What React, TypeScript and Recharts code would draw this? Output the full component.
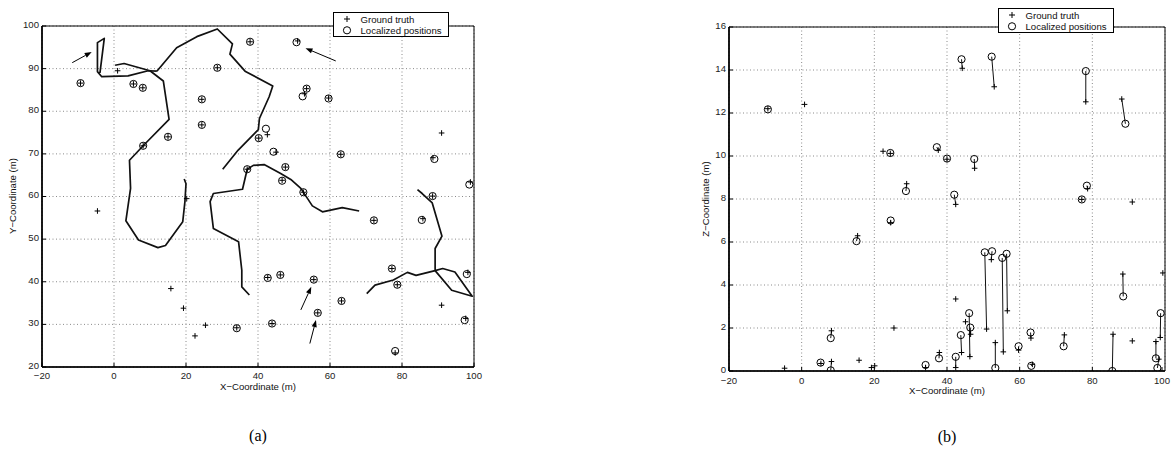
import React from 'react';
import { ScatterChart, Scatter, XAxis, YAxis, CartesianGrid, ReferenceArea } from 'recharts';

type Pt = [number, number];

// ---- (a) plan view: ground truth vs localized, in metres ----
const planTruth: Pt[] = [
  [-9.3, 86.6], [5.4, 86.4], [8.0, 85.5], [28.7, 90.2], [24.4, 82.8], [24.4, 76.8], [15.0, 74.0],
  [8.1, 71.9], [37.8, 96.3], [37.0, 66.4], [34.1, 29.2], [51.0, 96.5], [53.5, 85.3], [52.9, 84.1],
  [59.6, 83.1], [42.6, 74.5], [40.2, 73.7], [45.0, 70.4], [63.0, 69.9], [47.6, 66.9], [46.7, 63.8],
  [52.6, 61.0], [72.2, 54.4], [88.6, 69.1], [99.0, 63.4], [88.5, 60.1], [85.8, 54.8], [77.2, 43.1],
  [78.7, 39.3], [98.3, 42.2], [97.7, 31.4], [78.1, 23.3], [42.7, 41.0], [46.2, 41.6], [55.5, 40.5],
  [56.6, 32.7], [63.2, 35.5], [43.9, 30.2],
];
const planEstimate: Pt[] = [
  [-9.3, 86.6], [5.4, 86.4], [8.0, 85.5], [28.7, 90.2], [24.4, 82.8], [24.4, 76.8], [15.0, 74.0],
  [8.1, 71.9], [37.8, 96.3], [37.0, 66.4], [34.1, 29.1], [50.7, 96.2], [53.5, 85.3], [52.4, 83.5],
  [59.6, 83.0], [42.2, 75.9], [40.2, 73.7], [44.3, 70.5], [63.0, 69.9], [47.6, 66.9], [46.7, 63.7],
  [52.6, 61.0], [72.2, 54.4], [89.0, 68.8], [98.7, 62.8], [88.5, 60.1], [85.5, 54.5], [77.2, 43.1],
  [78.7, 39.3], [98.0, 41.8], [97.4, 31.0], [78.1, 23.75], [42.7, 40.9], [46.2, 41.6], [55.5, 40.5],
  [56.6, 32.7], [63.2, 35.5], [43.9, 30.2],
];
const planTruthOnly: Pt[] = [
  [1.0, 89.5], [-4.6, 56.6], [20.2, 59.5], [15.8, 38.4], [19.3, 33.8], [25.4, 29.8], [22.5, 27.3],
  [91.0, 74.9], [91.0, 34.5],
];

// building walls
const wallNorth: Pt[] = [
  [-3.9, 89.0], [-2.7, 97.1], [-4.6, 96.1], [-4.6, 89.3], [-3.4, 88.1], [3.9, 88.3], [9.5, 89.5], [11.9, 89.4],
];
const wallWest: Pt[] = [
  [0.3, 90.8], [2.8, 91.2], [10.0, 89.5], [13.7, 87.1], [15.3, 78.1], [8.1, 71.9], [4.3, 68.5], [4.6, 61.9],
  [3.3, 54.3], [6.8, 49.8], [12.2, 48.0], [14.3, 48.5], [19.1, 54.1], [19.7, 58.8], [20.0, 63.0], [19.5, 64.1],
];
const wallCorridor: Pt[] = [
  [11.9, 89.4], [17.4, 94.9], [23.0, 97.5], [28.7, 99.3], [32.9, 95.8], [32.2, 93.4], [36.4, 89.4],
  [44.1, 85.9], [43.1, 83.4], [40.4, 78.3], [40.1, 75.7], [34.5, 70.9], [30.2, 66.4],
];
const wallCentre: Pt[] = [
  [37.6, 36.9], [35.5, 38.8], [35.5, 42.7], [34.6, 49.4], [27.6, 52.5], [26.7, 58.8], [27.6, 60.7],
  [35.7, 61.7], [37.0, 66.4], [38.7, 67.3], [41.7, 67.5], [46.3, 65.4], [49.1, 64.0], [51.9, 61.9],
  [55.1, 57.8], [57.9, 56.4], [63.4, 57.4], [68.1, 56.6],
];
const wallEast: Pt[] = [
  [84.3, 61.6], [85.6, 60.7], [88.4, 58.5], [91.1, 50.7], [89.2, 47.8], [89.2, 42.6], [83.9, 41.5],
  [81.5, 42.2], [77.6, 40.4], [72.5, 39.2], [70.2, 37.2],
];
const wallEastLoop: Pt[] = [
  [89.2, 42.6], [91.3, 43.1], [94.7, 42.3], [99.5, 36.6], [93.8, 38.0], [89.2, 42.6],
];
const planWalls = [wallNorth, wallWest, wallCorridor, wallCentre, wallEast, wallEastLoop];

// arrows: [tail, head]
const planArrows: Pt[][] = [
  [[-11.6, 91.4], [-6.2, 93.9]],
  [[61.6, 91.8], [53.2, 94.8]],
  [[51.9, 33.4], [54.8, 38.8]],
  [[54.4, 25.5], [56.1, 31.0]],
];

// ---- (b) height: ground truth vs localized ----
const heightTruth: Pt[] = [
  [-9.3, 12.2], [24.4, 10.12], [37.6, 10.27], [28.9, 8.71], [24.5, 6.9], [15.4, 6.29], [8.2, 1.87],
  [5.3, 0.35], [8.2, 0.44], [34.1, 0.16], [37.9, 0.86], [40.0, 9.85], [44.2, 14.08], [53.0, 13.22],
  [78.2, 12.52], [88.1, 12.65], [47.6, 9.43], [42.4, 7.75], [78.7, 8.48], [77.1, 7.98], [50.9, 1.95],
  [52.2, 5.18], [55.5, 0.89], [56.6, 2.8], [46.3, 0.67], [46.5, 1.71], [44.0, 0.86], [42.4, 0.16],
  [53.3, 1.32], [59.7, 0.97], [63.1, 1.53], [63.5, 0.31], [72.3, 1.68], [85.7, 1.71], [88.4, 4.51],
  [98.7, 1.56], [97.5, 1.37], [98.3, 0.55],
];
const heightEstimate: Pt[] = [
  [-9.3, 12.17], [24.4, 10.14], [37.2, 10.41], [28.7, 8.37], [24.5, 7.0], [15.1, 6.04], [8.0, 1.53],
  [5.2, 0.39], [8.0, 0.03], [34.1, 0.28], [37.8, 0.59], [40.0, 9.88], [44.0, 14.5], [52.3, 14.62],
  [78.2, 13.95], [89.1, 11.5], [47.5, 9.86], [42.0, 8.2], [78.5, 8.62], [77.1, 7.98], [50.4, 5.52],
  [52.4, 5.57], [55.2, 5.26], [56.4, 5.45], [46.1, 2.69], [46.4, 2.02], [43.8, 1.67], [42.4, 0.66],
  [53.3, 0.14], [59.7, 1.15], [63.0, 1.79], [63.2, 0.24], [72.1, 1.15], [85.5, 0.0], [88.5, 3.47],
  [98.8, 2.69], [97.5, 0.59], [97.9, 0.14],
];
const heightTruthOnly: Pt[] = [
  [0.8, 12.4], [22.4, 10.22], [25.4, 2.0], [-4.7, 0.13], [15.8, 0.5], [19.2, 0.16], [20.1, 0.24],
  [91.0, 7.86], [42.4, 3.35], [45.1, 2.29], [91.0, 1.4], [99.4, 4.56],
];

const xTicks = [-20, 0, 20, 40, 60, 80, 100];
const planYTicks = [20, 30, 40, 50, 60, 70, 80, 90, 100];
const heightYTicks = [0, 2, 4, 6, 8, 10, 12, 14, 16];

const FONT = '"Liberation Sans", Arial, Helvetica, sans-serif';
const FS = 9.6;

const toObj = (pts: Pt[]) => pts.map(([x, y]) => ({ x, y }));
const fmt = (v: number) => (v < 0 ? '\u2212' + Math.abs(v) : String(v));

const Plus = (p: any) => (
  <path d={`M${p.cx - 2.8},${p.cy}H${p.cx + 2.8}M${p.cx},${p.cy - 2.8}V${p.cy + 2.8}`} stroke="#000" strokeWidth={1} />
);
const Ring = (p: any) => <circle cx={p.cx} cy={p.cy} r={3.6} fill="none" stroke="#000" strokeWidth={1} />;
const NoDot = () => <g />;

// inward tick mark + label; gap = distance from axis to label anchor
const makeXTick = (gap: number) => (p: any) => (
  <g>
    <line x1={p.x} x2={p.x} y1={p.y - gap} y2={p.y - gap - 4} stroke="#000" strokeWidth={1} />
    <text x={p.x} y={p.y} dy="0.71em" textAnchor="middle" fontSize={FS} fontFamily={FONT} fill="#222">
      {fmt(p.payload.value)}
    </text>
  </g>
);
const YTick = (p: any) => (
  <g>
    <line x1={p.x + 3} x2={p.x + 7} y1={p.y} y2={p.y} stroke="#000" strokeWidth={1} />
    <text x={p.x} y={p.y - 1.5} dy="0.355em" textAnchor="end" fontSize={FS} fontFamily={FONT} fill="#222">
      {fmt(p.payload.value)}
    </text>
  </g>
);
const XTickA = makeXTick(5);
const XTickB = makeXTick(6);

// straight polyline through the scatter points
const polyline = (lp: any) => {
  const pts = lp.points || [];
  return (
    <polyline points={pts.map((q: any) => `${q.x},${q.y}`).join(' ')} fill="none" stroke="#111" strokeWidth={1.7}
      strokeLinejoin="round" />
  );
};

// draws segments between consecutive pairs (truth -> estimate)
const pairSegments = (lp: any) => {
  const pts = lp.points || [];
  const segs = [];
  for (let i = 0; i + 1 < pts.length; i += 2) {
    segs.push(<line key={i} x1={pts[i].x} y1={pts[i].y} x2={pts[i + 1].x} y2={pts[i + 1].y} stroke="#111" strokeWidth={1} />);
  }
  return <g>{segs}</g>;
};

const arrowLine = (lp: any) => {
  const pts = lp.points || [];
  if (pts.length < 2) return <g />;
  const [a, b] = pts;
  const ang = Math.atan2(b.y - a.y, b.x - a.x);
  const L = 7, W = 2.6;
  const bx = b.x - L * Math.cos(ang), by = b.y - L * Math.sin(ang);
  const nx = -Math.sin(ang) * W, ny = Math.cos(ang) * W;
  return (
    <g>
      <line x1={a.x} y1={a.y} x2={bx} y2={by} stroke="#000" strokeWidth={1} />
      <polygon points={`${b.x},${b.y} ${bx + nx},${by + ny} ${bx - nx},${by - ny}`} fill="#000" />
    </g>
  );
};

const gridProps = { stroke: '#8a8a8a', strokeDasharray: '1 2.5', strokeWidth: 1 };

const Legend = ({ left, top }: { left: number; top: number }) => (
  <svg width={118} height={26} style={{ position: 'absolute', left, top }}>
    <rect x={0.5} y={0.5} width={115} height={24} fill="#fff" stroke="#000" strokeWidth={1} />
    <path d="M11,7H17M14,4V10" stroke="#000" strokeWidth={1} />
    <circle cx={14} cy={18.3} r={3.6} fill="none" stroke="#000" strokeWidth={1} />
    <text x={27.5} y={10.6} fontSize={FS} fontFamily={FONT} fill="#111">Ground truth</text>
    <text x={27.5} y={21.8} fontSize={FS} fontFamily={FONT} fill="#111">Localized positions</text>
  </svg>
);

const axisText: React.CSSProperties = { position: 'absolute', fontFamily: FONT, fontSize: FS, color: '#111', whiteSpace: 'nowrap' };
const caption: React.CSSProperties = { position: 'absolute', fontFamily: '"Liberation Serif", "Times New Roman", serif', fontSize: 16, color: '#000' };

export default function App() {
  return (
    <div style={{ position: 'absolute', left: 0, top: 0, width: 1174, height: 452, background: '#fff', overflow: 'hidden' }}>
      {/* (a) */}
      <div style={{ position: 'absolute', left: 0, top: 0 }}>
        <ScatterChart width={490} height={400} margin={{ top: 26, right: 16, bottom: 13, left: 0 }}>
          <CartesianGrid {...gridProps} />
          <XAxis type="number" dataKey="x" domain={[-20, 100]} ticks={xTicks} tick={<XTickA />} tickSize={0} tickMargin={5}
            tickLine={false} axisLine={{ stroke: '#000', strokeWidth: 1.6 }} height={20} allowDataOverflow />
          <YAxis type="number" dataKey="y" domain={[20, 100]} ticks={planYTicks} tick={<YTick />} tickSize={0} tickMargin={3}
            tickLine={false} axisLine={{ stroke: '#000', strokeWidth: 1.6 }} width={42} allowDataOverflow />
          <ReferenceArea x1={-20} x2={100} y1={20} y2={100} fill="none" fillOpacity={0} stroke="#000" strokeWidth={1} />
          {planWalls.map((w, i) => (
            <Scatter key={'w' + i} data={toObj(w)} shape={NoDot} line={polyline} lineJointType="linear" isAnimationActive={false} />
          ))}
          {planArrows.map((a, i) => (
            <Scatter key={'a' + i} data={toObj(a)} shape={NoDot} line={arrowLine} isAnimationActive={false} />
          ))}
          <Scatter data={toObj(planTruth)} shape={Plus} isAnimationActive={false} />
          <Scatter data={toObj(planTruthOnly)} shape={Plus} isAnimationActive={false} />
          <Scatter data={toObj(planEstimate)} shape={Ring} isAnimationActive={false} />
        </ScatterChart>
      </div>
      <div style={{ ...axisText, left: 258, top: 381, transform: 'translateX(-50%)' }}>X−Coordinate (m)</div>
      <div style={{ ...axisText, left: 12, top: 196, transform: 'translate(-50%,-50%) rotate(-90deg)' }}>Y−Coordinate (m)</div>
      <Legend left={333} top={12} />
      <div style={{ ...caption, left: 258, top: 427, transform: 'translateX(-50%)' }}>(a)</div>

      {/* (b) */}
      <div style={{ position: 'absolute', left: 690, top: 0 }}>
        <ScatterChart width={484} height={400} margin={{ top: 27, right: 9, bottom: 9, left: 0 }}>
          <CartesianGrid {...gridProps} />
          <XAxis type="number" dataKey="x" domain={[-20, 100]} ticks={xTicks} tick={<XTickB />} tickSize={0} tickMargin={6}
            tickLine={false} axisLine={{ stroke: '#000', strokeWidth: 1.6 }} height={20} allowDataOverflow />
          <YAxis type="number" dataKey="y" domain={[0, 16]} ticks={heightYTicks} tick={<YTick />} tickSize={0} tickMargin={3}
            tickLine={false} axisLine={{ stroke: '#000', strokeWidth: 1.6 }} width={39} allowDataOverflow />
          <ReferenceArea x1={-20} x2={100} y1={0} y2={16} fill="none" fillOpacity={0} stroke="#000" strokeWidth={1} />
          <Scatter
            data={heightTruth.flatMap((t, i) => [{ x: t[0], y: t[1] }, { x: heightEstimate[i][0], y: heightEstimate[i][1] }])}
            shape={NoDot} line={pairSegments} isAnimationActive={false} />
          <Scatter data={toObj(heightTruth)} shape={Plus} isAnimationActive={false} />
          <Scatter data={toObj(heightTruthOnly)} shape={Plus} isAnimationActive={false} />
          <Scatter data={toObj(heightEstimate)} shape={Ring} isAnimationActive={false} />
        </ScatterChart>
      </div>
      <div style={{ ...axisText, left: 947, top: 385, transform: 'translateX(-50%)' }}>X−Coordinate (m)</div>
      <div style={{ ...axisText, left: 705, top: 199, transform: 'translate(-50%,-50%) rotate(-90deg)' }}>Z−Coordinate (m)</div>
      <Legend left={998} top={8} />
      <div style={{ ...caption, left: 947, top: 428, transform: 'translateX(-50%)' }}>(b)</div>
    </div>
  );
}
